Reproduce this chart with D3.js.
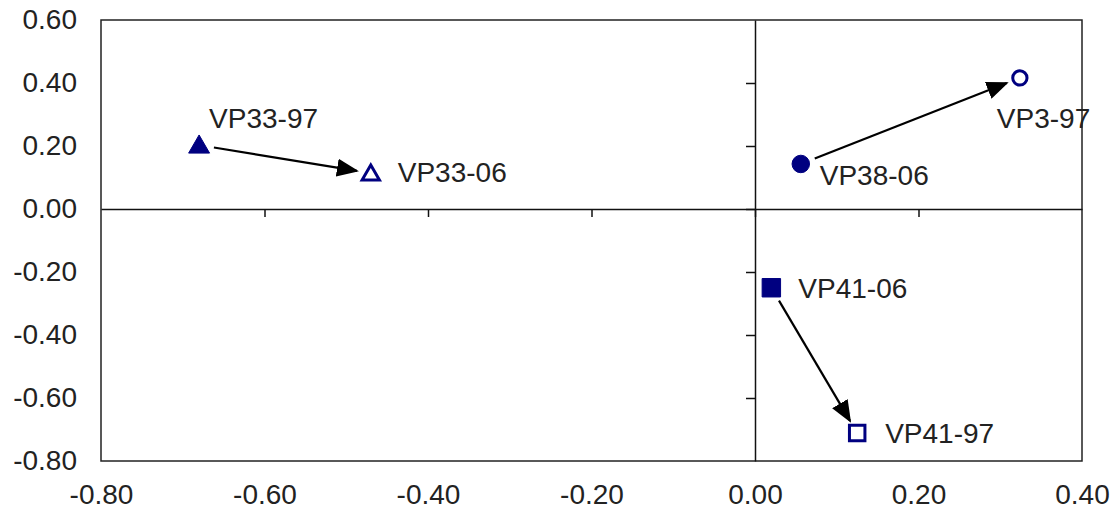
<!DOCTYPE html>
<html>
<head>
<meta charset="utf-8">
<script src="https://cdn.jsdelivr.net/npm/d3@7"></script>
<style>
    body { margin: 0; background: #fff; }
    text { font-family: "Liberation Sans", Arial, sans-serif; font-size: 28px; fill: #222; }
</style>
</head>
<body>
<div class="container"></div>
<script>
const WIDTH = 1114;
const HEIGHT = 519;
const LEFT = 101, RIGHT = 1082, TOP = 20, BOTTOM = 461;

// data
var names = ['VP33-97', 'VP33-06', 'VP38-06', 'VP3-97', 'VP41-06', 'VP41-97'];
var xValues = [-0.68, -0.47, 0.056, 0.324, 0.02, 0.125];
var yValues = [0.203, 0.114, 0.143, 0.416, -0.25, -0.711];
var shapes = ['triangle', 'triangle', 'circle', 'circle', 'square', 'square'];
var filled = [true, false, true, false, true, false];
var arrowFrom = ['VP33-97', 'VP38-06', 'VP41-06'];
var arrowTo = ['VP33-06', 'VP3-97', 'VP41-97'];
var xTicks = [-0.8, -0.6, -0.4, -0.2, 0.0, 0.2, 0.4];
var yTicks = [0.6, 0.4, 0.2, 0.0, -0.2, -0.4, -0.6, -0.8];

// label placement relative to the marker (layout only)
var labelOffset = {
    'VP33-97': [10, -17], 'VP33-06': [27, 9], 'VP38-06': [19, 21],
    'VP3-97': [-23, 50], 'VP41-06': [27, 10], 'VP41-97': [28, 10]
};

var _x = d3.scaleLinear().domain([-0.8, 0.4]).range([LEFT, RIGHT]);
var _y = d3.scaleLinear().domain([-0.8, 0.6]).range([BOTTOM, TOP]);

var _svg = d3.select('.container').append('svg').attr('width', WIDTH).attr('height', HEIGHT);

_svg.append('defs').append('marker')
    .attr('id', 'head')
    .attr('viewBox', '0 0 22 18')
    .attr('refX', 20).attr('refY', 9)
    .attr('markerWidth', 22).attr('markerHeight', 18)
    .attr('markerUnits', 'userSpaceOnUse')
    .attr('orient', 'auto')
    .append('path').attr('d', 'M0,0L22,9L0,18Z').attr('fill', '#000');

var points = names.map(function (n, i) {
    return {name: n, x: xValues[i], y: yValues[i], shape: shapes[i], filled: filled[i]};
});
var byName = {};
points.forEach(function (p) { byName[p.name] = p; });

// plot frame
_svg.append('rect')
    .attr('x', LEFT).attr('y', TOP)
    .attr('width', RIGHT - LEFT).attr('height', BOTTOM - TOP)
    .attr('fill', 'none').attr('stroke', '#222').attr('stroke-width', 1.5);

// axes through zero
var xAxis = d3.axisBottom(_x).tickValues(xTicks.slice(1, -1)).tickSize(8).tickFormat('').tickSizeOuter(0);
var yAxis = d3.axisLeft(_y).tickValues(yTicks.slice(1, -1)).tickSize(9).tickFormat('').tickSizeOuter(0);

var gx = _svg.append('g').attr('transform', 'translate(0,' + _y(0) + ')').call(xAxis);
var gy = _svg.append('g').attr('transform', 'translate(' + _x(0) + ',0)').call(yAxis);
[gx, gy].forEach(function (g) {
    g.selectAll('path, line').attr('stroke', '#111').attr('stroke-width', 1.5);
});

// tick labels along the frame
var fmt = function (d) { return d3.format('.2f')(d).replace('−', '-'); };
var xLab = _svg.append('g').attr('transform', 'translate(0,' + BOTTOM + ')')
    .call(d3.axisBottom(_x).tickValues(xTicks).tickSize(0).tickPadding(23).tickFormat(fmt));
var yLab = _svg.append('g').attr('transform', 'translate(' + LEFT + ',0)')
    .call(d3.axisLeft(_y).tickValues(yTicks).tickSize(0).tickPadding(24).tickFormat(fmt));
[xLab, yLab].forEach(function (g) {
    g.select('.domain').remove();
    g.selectAll('text').attr('font-size', null).attr('font-family', null).attr('fill', null);
});

// arrows
var arrows = arrowFrom.map(function (f, i) { return {from: byName[f], to: byName[arrowTo[i]]}; });
_svg.append('g').selectAll('line')
    .data(arrows)
    .enter().append('line')
    .each(function (d) {
        var x1 = _x(d.from.x), y1 = _y(d.from.y), x2 = _x(d.to.x), y2 = _y(d.to.y);
        var len = Math.hypot(x2 - x1, y2 - y1), ux = (x2 - x1) / len, uy = (y2 - y1) / len;
        d3.select(this)
            .attr('x1', x1 + ux * 15).attr('y1', y1 + uy * 15)
            .attr('x2', x2 - ux * 14).attr('y2', y2 - uy * 14);
    })
    .attr('stroke', '#000').attr('stroke-width', 2.2)
    .attr('marker-end', 'url(#head)');

// markers
var symbolType = {triangle: d3.symbolTriangle, circle: d3.symbolCircle, square: d3.symbolSquare};
var symbolSize = {triangle: 190, circle: 240, square: 340};
var symbolSizeOpen = {triangle: 130, circle: 160, square: 240};

_svg.append('g').selectAll('path')
    .data(points)
    .enter().append('path')
    .attr('transform', function (d) {
        var dy = d.shape === 'triangle' ? 2 : 0;
        return 'translate(' + _x(d.x) + ',' + (_y(d.y) + dy) + ')';
    })
    .attr('d', function (d) {
        return d3.symbol().type(symbolType[d.shape])
            .size(d.filled ? symbolSize[d.shape] : symbolSizeOpen[d.shape])();
    })
    .attr('fill', function (d) { return d.filled ? '#000080' : '#fff'; })
    .attr('stroke', '#000080')
    .attr('stroke-width', function (d) { return d.filled ? 1 : 3; });

// point labels
_svg.append('g').selectAll('text')
    .data(points)
    .enter().append('text')
    .attr('x', function (d) { return _x(d.x) + labelOffset[d.name][0]; })
    .attr('y', function (d) { return _y(d.y) + labelOffset[d.name][1]; })
    .text(function (d) { return d.name; });
</script>
</body>
</html>
